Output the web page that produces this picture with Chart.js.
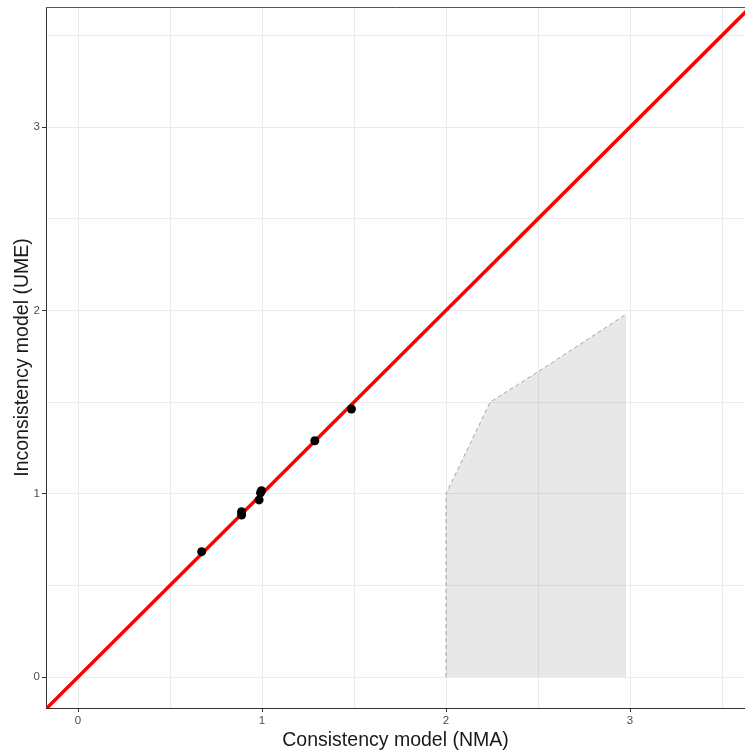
<!DOCTYPE html>
<html>
<head>
<meta charset="utf-8">
<script src="https://cdn.jsdelivr.net/npm/chart.js@4/dist/chart.umd.min.js"></script>
<style>
  html, body { margin: 0; padding: 0; background: #fff; overflow: hidden; }
  #wrap { width: 745px; height: 755px; }
</style>
</head>
<body>
<div id="wrap"><canvas id="c" width="745" height="755"></canvas></div>
<script>
// ---- data ----
const xTicks = [0, 1, 2, 3];
const yTicks = [0, 1, 2, 3];
const xGrid = [0, 0.5, 1, 1.5, 2, 2.5, 3, 3.5];
const yGrid = [0, 0.5, 1, 1.5, 2, 2.5, 3, 3.5];
const xRange = [-0.174, 3.625];
const yRange = [-0.169, 3.655];

// study points: NMA (x) vs UME (y)
const nmaValues = [0.672, 0.889, 0.889, 0.997, 0.992, 0.984, 1.287, 1.486];
const umeValues = [0.684, 0.902, 0.884, 1.016, 1.005, 0.966, 1.289, 1.462];

// line of equality
const identityX = [-0.3, 3.8];
const identityY = [-0.3, 3.8];

// shaded region outline
const regionX = [2.0, 2.0, 2.24, 2.5, 2.98];
const regionY = [0.0, 1.0, 1.50, 1.665, 1.98];

const toXY = (xs, ys) => xs.map((x, i) => ({ x: x, y: ys[i] }));

const FONT = "'Liberation Sans', Arial, sans-serif";

const borderPlugin = {
  id: 'topBorder',
  afterDraw(chart) {
    const { ctx, chartArea: a } = chart;
    ctx.save();
    ctx.strokeStyle = '#555';
    ctx.lineWidth = 1;
    ctx.beginPath();
    ctx.moveTo(a.left, a.top + 0.5);
    ctx.lineTo(a.right, a.top + 0.5);
    ctx.stroke();
    ctx.restore();
  }
};

const isMajor = (arr) => (ctx) => (ctx.tick && arr.includes(ctx.tick.value));

new Chart(document.getElementById('c'), {
  type: 'scatter',
  data: {
    datasets: [
      {
        label: 'region',
        type: 'line',
        data: toXY(regionX, regionY),
        borderColor: '#a6a6a6',
        borderWidth: 1,
        borderDash: [4, 3],
        backgroundColor: 'rgba(128,128,128,0.18)',
        fill: 'origin',
        pointRadius: 0,
        tension: 0,
        order: 3
      },
      {
        label: 'identity',
        type: 'line',
        data: toXY(identityX, identityY),
        borderColor: '#ff0000',
        borderWidth: 3.5,
        pointRadius: 0,
        fill: false,
        order: 2
      },
      {
        label: 'studies',
        data: toXY(nmaValues, umeValues),
        backgroundColor: '#000',
        borderColor: '#000',
        pointRadius: 4.5,
        borderWidth: 0,
        order: 1
      }
    ]
  },
  options: {
    responsive: false,
    animation: false,
    devicePixelRatio: 1,
    layout: { autoPadding: false, padding: { top: 7, right: 0, left: 0, bottom: 0 } },
    plugins: { legend: { display: false }, tooltip: { enabled: false } },
    scales: {
      x: {
        type: 'linear',
        min: xRange[0],
        max: xRange[1],
        afterBuildTicks: (s) => { s.ticks = xGrid.map(v => ({ value: v })); },
        afterFit: (s) => { s.height = 47; s.paddingLeft = 0; s.paddingRight = 0; },
        grid: {
          color: '#ebebeb',
          lineWidth: 1,
          tickLength: 4,
          tickColor: (ctx) => isMajor(xTicks)(ctx) ? '#333' : 'rgba(0,0,0,0)'
        },
        border: { display: true, color: '#333', width: 1 },
        ticks: {
          color: '#4d4d4d',
          font: { family: FONT, size: 11.5 },
          padding: 2,
          maxRotation: 0,
          autoSkip: false,
          callback: (v) => xTicks.includes(v) ? String(v) : ''
        },
        title: {
          display: true,
          text: 'Consistency model (NMA)',
          color: '#1a1a1a',
          font: { family: FONT, size: 19.5, lineHeight: 1 },
          padding: { top: 0, bottom: 5 }
        }
      },
      y: {
        type: 'linear',
        min: yRange[0],
        max: yRange[1],
        afterBuildTicks: (s) => { s.ticks = yGrid.map(v => ({ value: v })); },
        afterFit: (s) => { s.width = 46; s.paddingTop = 0; s.paddingBottom = 0; },
        grid: {
          color: '#ebebeb',
          lineWidth: 1,
          tickLength: 4,
          tickColor: (ctx) => isMajor(yTicks)(ctx) ? '#333' : 'rgba(0,0,0,0)'
        },
        border: { display: true, color: '#333', width: 1 },
        ticks: {
          color: '#4d4d4d',
          font: { family: FONT, size: 11.5 },
          padding: 2,
          autoSkip: false,
          callback: (v) => yTicks.includes(v) ? String(v) : ''
        },
        title: {
          display: true,
          text: 'Inconsistency model (UME)',
          color: '#1a1a1a',
          font: { family: FONT, size: 19.5, lineHeight: 1 },
          padding: { top: 13, bottom: 0 }
        }
      }
    }
  },
  plugins: [borderPlugin]
});
</script>
</body>
</html>
